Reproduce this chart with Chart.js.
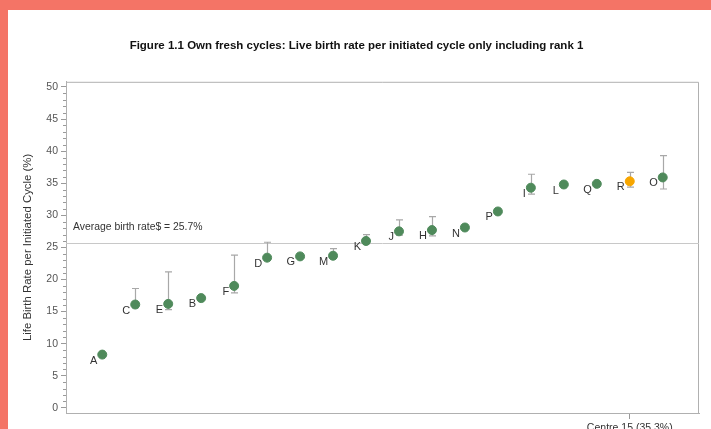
<!DOCTYPE html>
<html>
<head>
<meta charset="utf-8">
<script src="https://cdn.jsdelivr.net/npm/chart.js@4.4.1/dist/chart.umd.min.js"></script>
<style>
  html, body { margin: 0; padding: 0; background: #fff; }
  #frame {
    position: relative; width: 711px; height: 429px; box-sizing: border-box;
    border-top: 10px solid #f47466; border-left: 8px solid #f47466; background: #fff;
  }
  #wrap { position: absolute; left: -8px; top: -10px; width: 711px; height: 429px; }
</style>
</head>
<body>
<div id="frame"><div id="wrap"><canvas id="rateChart"></canvas></div></div>
<script>
  // centres, sorted by live birth rate
  const centres = ['A', 'C', 'E', 'B', 'F', 'D', 'G', 'M', 'K', 'J', 'H', 'N', 'P', 'I', 'L', 'Q', 'R', 'O'];
  const birthRate = [8.3, 16.1, 16.2, 17.1, 19.0, 23.4, 23.6, 23.7, 26.0, 27.5, 27.7, 28.1, 30.6, 34.3, 34.8, 34.9, 35.3, 35.9];
  // error bars (null = no bar shown)
  const upperCI = [null, 18.6, 21.2, null, 23.8, 25.8, null, 24.8, 27.0, 29.3, 29.8, null, null, 36.4, null, null, 36.7, 39.3];
  const lowerCI = [null, 15.6, 15.3, null, 17.9, 23.0, null, 23.3, 25.6, 26.9, 26.8, null, null, 33.3, null, null, 34.4, 34.1];
  const yTicks = [0, 5, 10, 15, 20, 25, 30, 35, 40, 45, 50];
  const avgRate = 25.7;
  const highlight = 'R';
  const highlightLabel = 'Centre 15 (35.3%)';

  const green = '#4f8a5b';
  const orange = '#f7a600';
  const grey = '#a8a8a8';
  const font = '"Liberation Sans", Arial, sans-serif';

  // ======== extra drawing: frame, minor ticks, average line, error bars, labels ========
  const extras = {
    id: 'extras',
    beforeDatasetsDraw(chart) {
      const { ctx, chartArea: a, scales: { x, y } } = chart;
      ctx.save();
      // top + right border
      ctx.strokeStyle = '#b0b0b0';
      ctx.lineWidth = 1;
      ctx.beginPath();
      ctx.moveTo(a.left, a.top + 0.5);
      ctx.lineTo(a.right - 0.5, a.top + 0.5);
      ctx.lineTo(a.right - 0.5, a.bottom);
      ctx.stroke();
      // minor ticks every 1%
      ctx.strokeStyle = '#9a9a9a';
      ctx.beginPath();
      for (let v = 0; v <= 50; v++) {
        if (v % 5 === 0) continue;
        const py = Math.round(y.getPixelForValue(v)) + 0.5;
        ctx.moveTo(a.left - 3, py);
        ctx.lineTo(a.left, py);
      }
      ctx.stroke();
      // average line
      const ay = Math.round(y.getPixelForValue(avgRate)) + 0.5;
      ctx.strokeStyle = '#c8c8c8';
      ctx.beginPath();
      ctx.moveTo(a.left, ay);
      ctx.lineTo(a.right, ay);
      ctx.stroke();
      ctx.fillStyle = '#333';
      ctx.font = '10.4px ' + font;
      ctx.textBaseline = 'middle';
      ctx.fillText('Average birth rate$ = ' + avgRate + '%', a.left + 7, y.getPixelForValue(avgRate) - 16);
      // error bars
      ctx.strokeStyle = grey;
      ctx.lineWidth = 1.2;
      centres.forEach((c, i) => {
        if (upperCI[i] == null) return;
        const px = Math.round(x.getPixelForValue(i)) + 0.5;
        const top = y.getPixelForValue(upperCI[i]);
        const bot = y.getPixelForValue(lowerCI[i]);
        ctx.beginPath();
        ctx.moveTo(px, top); ctx.lineTo(px, bot);
        ctx.moveTo(px - 3.5, top); ctx.lineTo(px + 3.5, top);
        ctx.moveTo(px - 3.5, bot); ctx.lineTo(px + 3.5, bot);
        ctx.stroke();
      });
      ctx.restore();
    },
    afterDatasetsDraw(chart) {
      const { ctx, scales: { x, y } } = chart;
      ctx.save();
      ctx.fillStyle = '#333';
      ctx.font = '11px ' + font;
      ctx.textAlign = 'right';
      ctx.textBaseline = 'middle';
      centres.forEach((c, i) => {
        ctx.fillText(c, x.getPixelForValue(i) - 5, y.getPixelForValue(birthRate[i]) + 6);
      });
      ctx.restore();
    }
  };

  new Chart(document.getElementById('rateChart'), {
    type: 'scatter',
    data: {
      datasets: [{
        data: birthRate.map((v, i) => ({ x: i, y: v })),
        backgroundColor: centres.map(c => c === highlight ? orange : green),
        borderColor: centres.map(c => c === highlight ? orange : green),
        pointRadius: 4.5,
        pointHoverRadius: 4.5
      }]
    },
    options: {
      responsive: true,
      maintainAspectRatio: false,
      animation: false,
      layout: { padding: { left: 14, right: 12, top: 0, bottom: 0 } },
      plugins: {
        legend: { display: false },
        tooltip: { enabled: false },
        title: {
          display: true,
          text: 'Figure 1.1 Own fresh cycles: Live birth rate per initiated cycle only including rank 1',
          color: '#111',
          font: { family: font, size: 11.5, weight: 'bold' },
          padding: { top: 39, bottom: 29 }
        }
      },
      scales: {
        x: {
          type: 'linear',
          min: -1.1,
          max: 18.1,
          afterBuildTicks: s => { s.ticks = [{ value: centres.indexOf(highlight) }]; },
          afterFit: s => { s.height = 16; },
          ticks: {
            callback: () => highlightLabel,
            color: '#333',
            font: { family: font, size: 10.5 },
            padding: 3,
            maxRotation: 0
          },
          grid: { drawOnChartArea: false, drawTicks: true, tickLength: 6, color: '#999' },
          border: { display: true, color: '#b0b0b0', width: 1 }
        },
        y: {
          min: -0.8,
          max: 50.8,
          afterBuildTicks: s => { s.ticks = yTicks.map(v => ({ value: v })); },
          afterFit: s => { s.width = 52; },
          ticks: {
            color: '#555',
            font: { family: font, size: 10.5 },
            padding: 3
          },
          grid: { drawOnChartArea: false, drawTicks: true, tickLength: 5, color: '#9a9a9a' },
          border: { display: true, color: '#b0b0b0', width: 1 },
          title: {
            display: true,
            text: 'Life Birth Rate per Initiated Cycle (%)',
            color: '#333',
            font: { family: font, size: 11.4 },
            padding: { top: 7, bottom: 0 }
          }
        }
      }
    },
    plugins: [extras]
  });
</script>
</body>
</html>
